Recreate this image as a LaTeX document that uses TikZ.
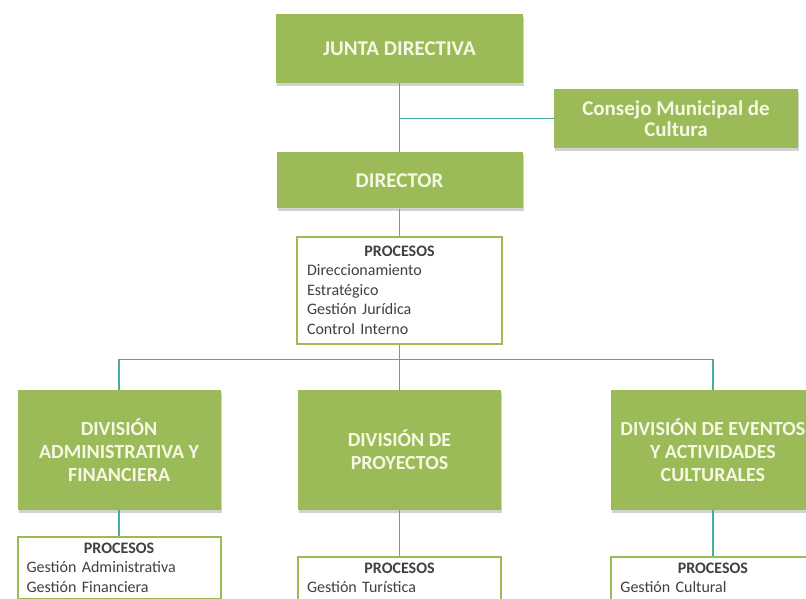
\documentclass[tikz,border=0pt]{standalone}
\usepackage{fontspec}
\setmainfont{Carlito}
\usetikzlibrary{positioning,shadows}

\definecolor{olivegreen}{RGB}{155,187,89}
\definecolor{tealline}{RGB}{75,172,160}
\definecolor{boxtext}{RGB}{246,248,228}
\definecolor{proctext}{RGB}{64,64,64}

\newcommand{\proctitle}{\makebox[\hsize]{\bfseries PROCESOS}}

\begin{document}
\begin{tikzpicture}[x=1pt,y=1pt,
					unit box/.style={rectangle,fill=olivegreen,text=boxtext,
						font=\fontsize{21}{23}\selectfont\bfseries,align=center,
						drop shadow={shadow xshift=1pt,shadow yshift=-3pt,opacity=0.35}},
					div box/.style={unit box,minimum width=203pt,minimum height=120pt,
						font=\fontsize{20}{23}\selectfont\bfseries},
					process box/.style={rectangle,draw=olivegreen,line width=2pt,fill=white,
						text=proctext,font=\fontsize{16}{19.5}\selectfont,align=left,
						text width=185pt,inner xsep=9pt,inner ysep=6pt},
					link/.style={draw=tealline,line width=1.3pt}]

  \path[use as bounding box,fill=white] (0,0) rectangle (806,-599);

  % top of the chart
  \node[unit box,minimum width=247pt,minimum height=69pt] (junta) at (399.5,-48.5) {JUNTA DIRECTIVA};
  \node[unit box,minimum width=246pt,minimum height=56pt] (director) [below=69pt of junta] {DIRECTOR};
  \node[unit box,minimum width=244pt,minimum height=59pt,
        font=\fontsize{21}{21.5}\selectfont\bfseries] (consejo) at (676,-118.5) {Consejo Municipal de\\Cultura};
  \node[process box,minimum width=205pt,minimum height=107pt] (procdir) [below=27pt of director]
    {\proctitle\\Direccionamiento\\Estratégico\\Gestión Jurídica\\Control Interno};
  \coordinate[below=15pt of procdir] (bus);

  % divisions
  \node[div box] (divproy) [below=45pt of procdir] {DIVISIÓN DE\\PROYECTOS};
  \node[div box] (divadmin) [left=77pt of divproy] {DIVISIÓN\\ADMINISTRATIVA Y\\FINANCIERA};
  \node[div box] (diveventos) [right=110pt of divproy] {DIVISIÓN DE EVENTOS\\Y ACTIVIDADES\\CULTURALES};

  \node[process box,text depth=40pt] (procadmin) [below=26pt of divadmin]
    {\proctitle\\Gestión Administrativa\\Gestión Financiera};
  \node[process box,text depth=40pt] (procproy) [below=46pt of divproy]
    {\proctitle\\Gestión Turística};
  \node[process box,text depth=40pt] (proceventos) [below=46pt of diveventos]
    {\proctitle\\Gestión Cultural};

  % connectors
  \path[link] (junta.south) -- (director.north);
  \path[link] (consejo.west) -- (consejo.west -| junta.south);
  \path[link] (director.south) -- (procdir.north);
  \path[link] (procdir.south) -- (divproy.north);
  \path[link] (divadmin.north) |- (bus) -| (diveventos.north);
  \path[link] (divadmin.south) -- (procadmin.north);
  \path[link] (divproy.south) -- (procproy.north);
  \path[link] (diveventos.south) -- (proceventos.north);
\end{tikzpicture}
\end{document}
